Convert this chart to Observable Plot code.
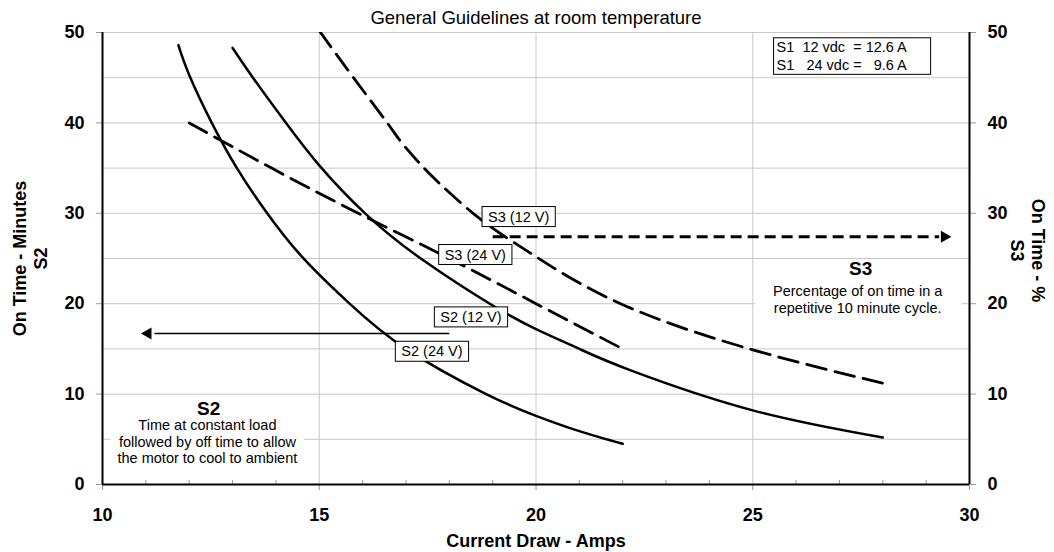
<!DOCTYPE html>
<html>
<head>
<meta charset="utf-8">
<script src="https://cdn.jsdelivr.net/npm/d3@7"></script>
<script src="https://cdn.jsdelivr.net/npm/@observablehq/plot@0.6"></script>
<style>
  html, body { margin: 0; padding: 0; background: #fff; }
  svg { font-family: "Liberation Sans", Arial, sans-serif; }
</style>
</head>
<body>
<div id="chart"></div>
<script>
// ---- Data ----
const s2_24V = [[11.75,48.6],[12.0,45.3],[12.5,40.2],[13.1,35],[13.77,30.2],[14.6,25.2],[15.7,20],[17.0,15],[18.85,10],[20,7.6],[21,5.9],[22,4.5]];
const s2_12V = [[13.0,48.3],[13.5,44.8],[14.2,40.2],[15.0,35.3],[16.1,29.8],[17.4,24.8],[19.0,19.8],[20,17.2],[21,15.0],[22.2,12.6],[25,8.2],[28,5.2]];
const s3_12V = [[15.0,50.2],[15.79,45],[16.57,40],[16.87,38],[17.5,34.6],[18.6,29.8],[19.45,26.9],[20,25.2],[21.95,20],[25,14.9],[28,11.2]];
const s3_24V = [[12,40],[13.9,35],[15.9,30],[18.0,25],[20,20],[22,15]];

const xTicks = [10, 15, 20, 25, 30];
const xMinorTicks = [11,12,13,14,16,17,18,19,21,22,23,24,26,27,28,29];
const xGrid = [15, 20, 25];
const yTicks = [0, 10, 20, 30, 40, 50];
const yGrid = [5, 10, 15, 20, 25, 30, 35, 40, 45, 50];

const curveLabels = [
  {x: 19.6, y: 29.6, text: "S3 (12 V)"},
  {x: 18.6, y: 25.4, text: "S3 (24 V)"},
  {x: 18.5, y: 18.5, text: "S2 (12 V)"},
  {x: 17.6, y: 14.7, text: "S2 (24 V)"}
];
const legendLines = ["S1\u00a0\u00a012 vdc\u00a0\u00a0= 12.6 A", "S1\u00a0\u00a0\u00a024 vdc =\u00a0\u00a0\u00a09.6 A"];
const legendPos = [{x: 25.55, y: 47.5}];

const s2Arrow = [{x1: 18, x2: 11.2, y: 16.7}];
const s2Head = [{x: 11.05, y: 16.7}];
const s3Arrow = [{x1: 19, x2: 29.3, y: 27.4}];
const s3Head = [{x: 29.42, y: 27.4}];

const s2Header = [{x: 12.45, y: 8.4, text: "S2"}];
const s2Body = [{x: 12.42, y: 4.76, text: "Time at constant load\nfollowed by off time to allow\nthe motor to cool to ambient"}];
const s3Header = [{x: 27.49, y: 23.9, text: "S3"}];
const s3Body = [{x: 27.42, y: 20.5, text: "Percentage of on time in a\nrepetitive 10 minute cycle."}];

const titleText = ["General Guidelines at room temperature"];
const xTitle = ["Current Draw - Amps"];
const yLeftTitle = ["On Time - Minutes\nS2"];
const yRightTitle = ["On Time - %\nS3"];

// ---- Build ----
const rows = pts => pts.map(([x, y]) => ({x, y}));
const gridColor = "#c8c8c8";
const tickColor = "#9a9a9a";

const svg = Plot.plot({
  width: 1054, height: 552,
  marginLeft: 102, marginRight: 85, marginTop: 32, marginBottom: 68,
  x: {domain: [10, 30]},
  y: {domain: [0, 50]},
  style: {background: "white", fontFamily: '"Liberation Sans", Arial, sans-serif', overflow: "visible"},
  marks: [
    Plot.gridY(yGrid, {stroke: gridColor, strokeOpacity: 1, strokeWidth: 1}),
    Plot.gridX(xGrid, {stroke: gridColor, strokeOpacity: 1, strokeWidth: 1}),
    Plot.axisX(xMinorTicks, {tickSize: -4, tickFormat: () => "", label: null, stroke: tickColor}),
    Plot.axisX(xTicks, {tickSize: 6, tickPadding: 18, fontSize: 18, fontWeight: "bold", label: null, stroke: tickColor, fill: "black"}),
    Plot.axisY(yTicks, {anchor: "left", tickSize: 6, tickPadding: 12, fontSize: 18, fontWeight: "bold", label: null, stroke: tickColor, fill: "black"}),
    Plot.axisY(yTicks, {anchor: "right", tickSize: 6, tickPadding: 12, fontSize: 18, fontWeight: "bold", label: null, stroke: tickColor, fill: "black"}),
    Plot.ruleX([10, 30], {stroke: "black", strokeWidth: 2}),
    Plot.ruleY([0], {stroke: "black", strokeWidth: 2}),

    // S2 / S3 explanatory texts (white background added below)
    Plot.text(s2Body, {x: "x", y: "y", text: "text", fontSize: 14.5, lineHeight: 1.14}),
    Plot.text(s2Header, {x: "x", y: "y", text: "text", fontSize: 19, fontWeight: "bold"}),
    Plot.text(s3Body, {x: "x", y: "y", text: "text", fontSize: 14.5, lineHeight: 1.17}),
    Plot.text(s3Header, {x: "x", y: "y", text: "text", fontSize: 19, fontWeight: "bold"}),

    // curves
    Plot.line(rows(s2_24V), {x: "x", y: "y", stroke: "black", strokeWidth: 2.5, curve: "natural"}),
    Plot.line(rows(s2_12V), {x: "x", y: "y", stroke: "black", strokeWidth: 2.5, curve: "natural"}),
    Plot.line(rows(s3_12V), {x: "x", y: "y", stroke: "black", strokeWidth: 2.8, strokeDasharray: "20,9", curve: "natural", clip: true}),
    Plot.line(rows(s3_24V), {x: "x", y: "y", stroke: "black", strokeWidth: 2.8, strokeDasharray: "20,9", curve: "natural"}),

    // arrows
    Plot.link(s2Arrow, {x1: "x1", x2: "x2", y1: "y", y2: "y", stroke: "black", strokeWidth: 1.5}),
    Plot.dot(s2Head, {x: "x", y: "y", symbol: "triangle", rotate: -90, r: 4.5, fill: "black", stroke: null}),
    Plot.link(s3Arrow, {x1: "x1", x2: "x2", y1: "y", y2: "y", stroke: "black", strokeWidth: 3, strokeDasharray: "11,6"}),
    Plot.dot(s3Head, {x: "x", y: "y", symbol: "triangle", rotate: 90, r: 4.5, fill: "black", stroke: null}),

    // boxed curve labels
    Plot.text(curveLabels, {x: "x", y: "y", text: "text", fontSize: 14.5}),

    // legend box text
    Plot.text(legendPos, {x: "x", y: "y", text: () => legendLines.join("\n"), textAnchor: "start", fontSize: 14.5, lineHeight: 1.28}),

    // titles
    Plot.text(titleText, {frameAnchor: "top", dy: -14, lineAnchor: "middle", fontSize: 18.5}),
    Plot.text(xTitle, {frameAnchor: "bottom", dy: 57, lineAnchor: "middle", fontSize: 18, fontWeight: "bold"}),
    Plot.text(yLeftTitle, {frameAnchor: "left", dx: -73, rotate: -90, textAnchor: "middle", lineAnchor: "middle", fontSize: 18, fontWeight: "bold", lineHeight: 1.2}),
    Plot.text(yRightTitle, {frameAnchor: "right", dx: 59, dy: -8, rotate: 90, textAnchor: "middle", lineAnchor: "middle", fontSize: 18, fontWeight: "bold", lineHeight: 1.2})
  ]
});

document.getElementById("chart").appendChild(svg);

// ---- Post: draw boxes behind chosen texts ----
function boxify(match, opts) {
  d3.select(svg).selectAll("text").filter(function() { return match(this.textContent); }).each(function() {
    const bb = this.getBBox();
    const r = document.createElementNS("http://www.w3.org/2000/svg", "rect");
    const px = opts.padX, py = opts.padY;
    r.setAttribute("x", bb.x - px);
    r.setAttribute("y", bb.y - py);
    r.setAttribute("width", (opts.width ?? (bb.width + 2 * px)));
    r.setAttribute("height", bb.height + 2 * py);
    r.setAttribute("fill", "white");
    r.setAttribute("stroke", opts.stroke || "none");
    r.setAttribute("stroke-width", 1);
    const t = this.getAttribute("transform");
    if (t) r.setAttribute("transform", t);
    this.parentNode.insertBefore(r, this);
  });
}
const labelSet = new Set(curveLabels.map(d => d.text));
boxify(s => labelSet.has(s), {padX: 6, padY: 2, stroke: "black"});
boxify(s => s.startsWith("S1"), {padX: 3, padY: 1, stroke: "black", width: 157});
boxify(s => s.startsWith("Time at constant"), {padX: 7, padY: 0});
boxify(s => s.startsWith("Percentage"), {padX: 18, padY: 0});
</script>
</body>
</html>
